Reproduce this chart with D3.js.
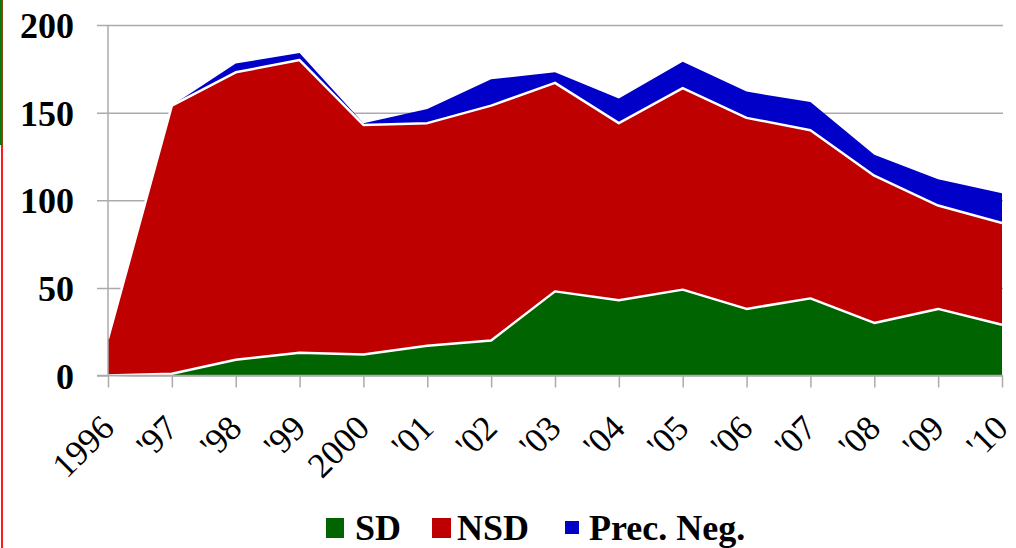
<!DOCTYPE html>
<html><head><meta charset="utf-8">
<script src="https://cdn.jsdelivr.net/npm/d3@7"></script>
<style>
html,body{margin:0;padding:0;background:#fff;}
svg{display:block;}
</style></head>
<body>
<svg id="chart" width="1016" height="548"></svg>
<script>
const years = ["1996","'97","'98","'99","2000","'01","'02","'03","'04","'05","'06","'07","'08","'09","'10"];
const sdValues = [0, 1, 9, 13, 12, 17, 20, 48, 43, 49, 38, 44, 30, 38, 29];
const nsdValues = [21, 153, 164, 167, 131, 127, 134, 119, 101, 115, 109, 96, 84, 59, 58];
const precValues = [0, 0, 5, 4, 1, 8, 15, 6, 14, 15, 15, 16, 12, 15, 17];
const seriesNames = ["SD", "NSD", "Prec. Neg."];
const yTicks = [0, 50, 100, 150, 200];

const colors = {"SD": "#006400", "NSD": "#BF0000", "Prec. Neg.": "#0000C8"};
const keys = ["SD", "NSD", "Prec. Neg."];
const rows = years.map((yr, i) => ({i, year: yr, "SD": sdValues[i], "NSD": nsdValues[i], "Prec. Neg.": precValues[i]}));

const svg = d3.select("#chart");
const x = d3.scaleLinear().domain([0, years.length - 1]).range([108, 1002]);
const y = d3.scaleLinear().domain([0, 200]).range([375.5, 25]);
const serif = "'Liberation Serif','Times New Roman',serif";

// left edge decoration
svg.append("rect").attr("x", 1).attr("y", 0).attr("width", 2).attr("height", 548).attr("fill", "#ff1a1a");
svg.append("rect").attr("x", 0).attr("y", 0).attr("width", 2.5).attr("height", 145).attr("fill", "#0a7a0a");

// gridlines + y labels
const gAxisY = svg.append("g").attr("transform", "translate(97,0)")
  .call(d3.axisLeft(y).tickValues(yTicks).tickSize(-(1003 - 97)).tickPadding(23).tickFormat(d3.format("d")));
gAxisY.select(".domain").remove();
gAxisY.selectAll(".tick line").attr("stroke", "#ababab").attr("stroke-width", 1.5);
gAxisY.selectAll(".tick text").attr("font-family", serif).attr("font-weight", "bold")
  .attr("font-size", 36).attr("fill", "#000").attr("dy", "12.5").attr("y", 0);

// stacked areas
const stack = d3.stack().keys(keys);
const layers = stack(rows);
const area = d3.area().x(d => x(d.data.i)).y0(d => y(d[0])).y1(d => y(d[1]));
const line = d3.line().x(d => x(d.data.i)).y(d => y(d[1]));

svg.append("g").selectAll("path.area").data(layers).join("path")
  .attr("class", "area").attr("d", area).attr("fill", d => colors[d.key]);

svg.append("g").selectAll("path.sep").data(layers.slice(0, 2)).join("path")
  .attr("class", "sep").attr("d", line).attr("fill", "none")
  .attr("stroke", "#fff").attr("stroke-width", 2.5).attr("stroke-linejoin", "round");

// y axis line
svg.append("line").attr("x1", 108).attr("x2", 108).attr("y1", 25).attr("y2", 375.5)
  .attr("stroke", "#ababab").attr("stroke-width", 1.5);

// x axis
const gAxisX = svg.append("g").attr("transform", "translate(0,375.5)")
  .call(d3.axisBottom(x).tickValues(d3.range(years.length)).tickSize(12).tickFormat(""));
gAxisX.select(".domain").remove();
gAxisX.selectAll(".tick line").attr("stroke", "#ababab").attr("stroke-width", 1.5);
svg.append("line").attr("x1", 97).attr("x2", 1003).attr("y1", 375.5).attr("y2", 375.5)
  .attr("stroke", "#ababab").attr("stroke-width", 1.5);

svg.append("g").selectAll("text").data(years).join("text")
  .attr("transform", (d, i) => `translate(${x(i) + 8},${430}) rotate(-45)`)
  .attr("text-anchor", "end").attr("font-family", serif).attr("font-size", 35)
  .attr("fill", "#000").text(d => d);

// legend
const legendItems = [
  {name: seriesNames[0], sx: 326, sy: 518, sw: 18, sh: 20, tx: 355},
  {name: seriesNames[1], sx: 432, sy: 518, sw: 19, sh: 20, tx: 457},
  {name: seriesNames[2], sx: 565, sy: 521, sw: 14, sh: 13, tx: 589}
];
const lg = svg.append("g");
lg.selectAll("rect").data(legendItems).join("rect")
  .attr("x", d => d.sx).attr("y", d => d.sy).attr("width", d => d.sw).attr("height", d => d.sh)
  .attr("fill", d => colors[d.name]);
lg.selectAll("text").data(legendItems).join("text")
  .attr("x", d => d.tx).attr("y", 540).attr("font-family", serif).attr("font-weight", "bold")
  .attr("font-size", 36).attr("fill", "#000").text(d => d.name);
</script>
</body></html>
